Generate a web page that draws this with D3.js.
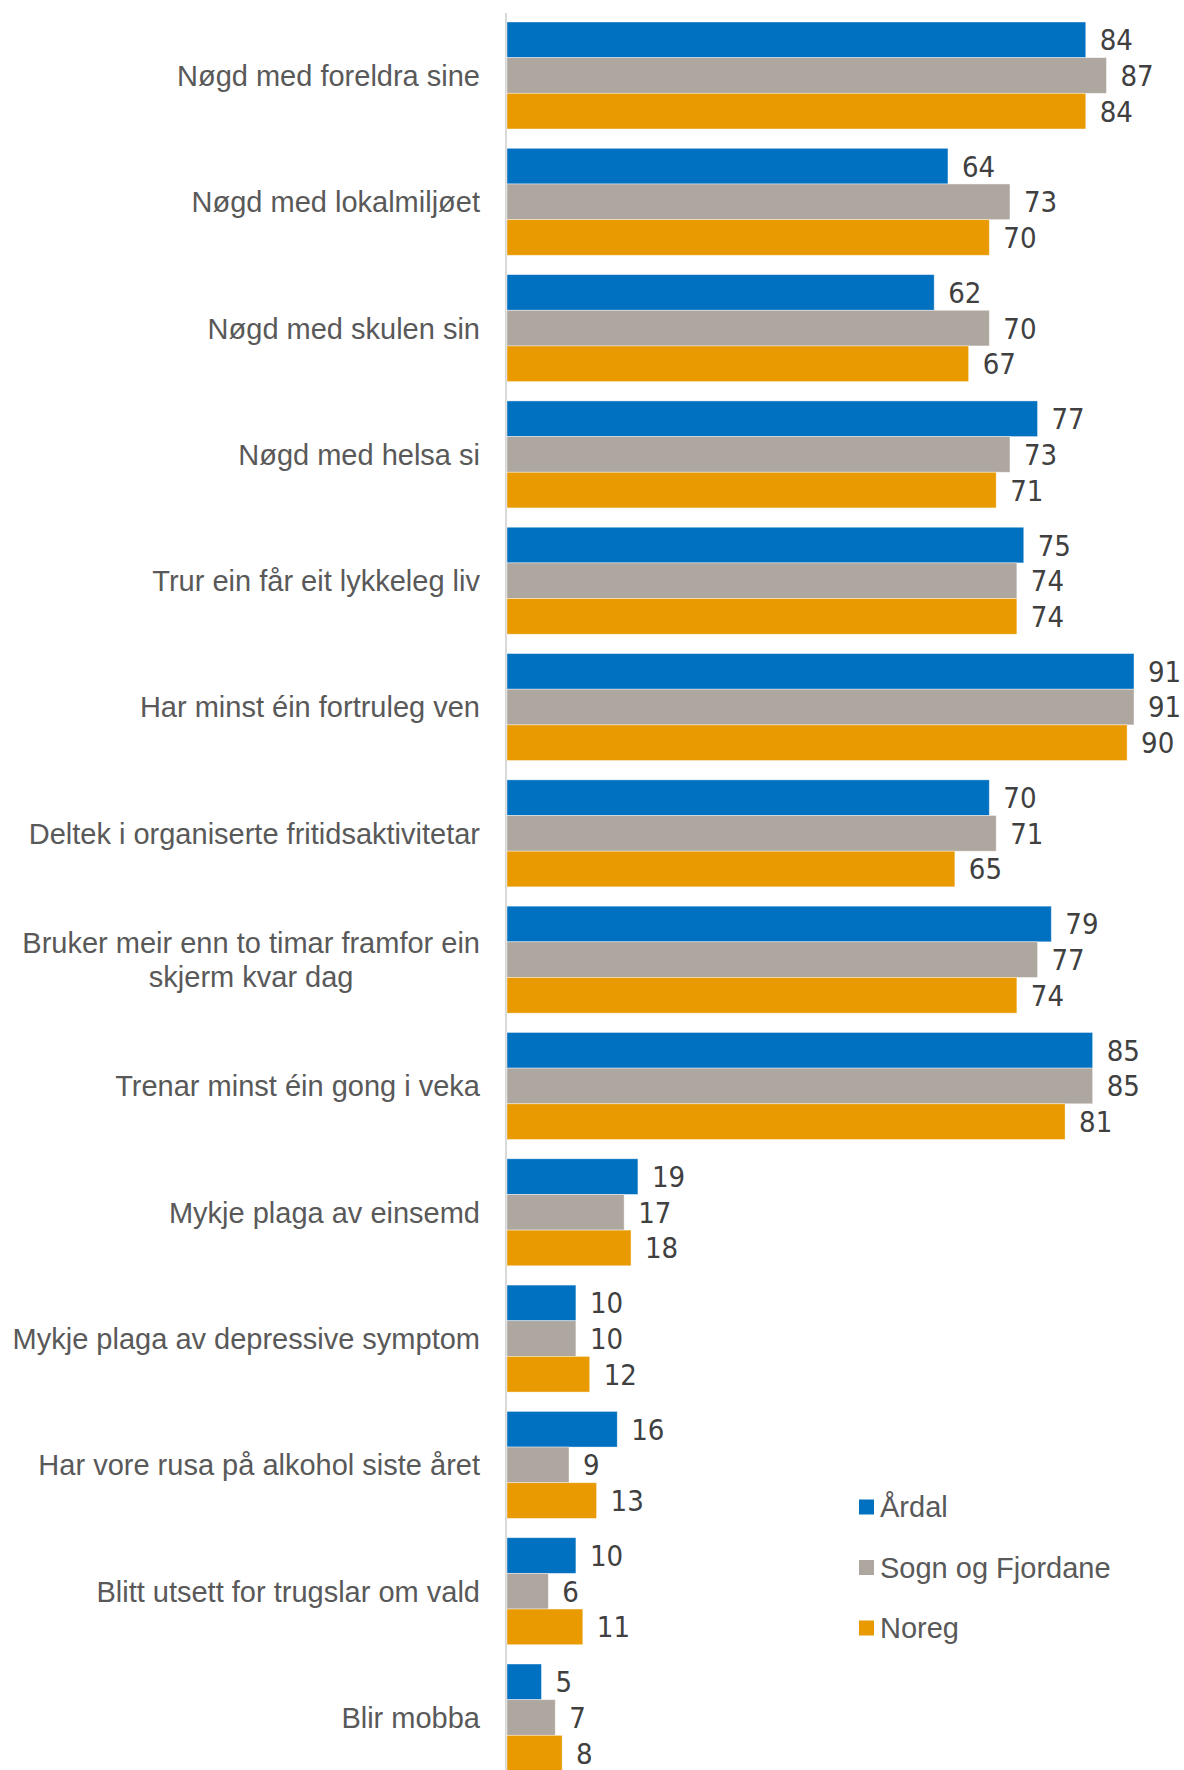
<!DOCTYPE html>
<html>
<head>
<meta charset="utf-8">
<script src="https://cdn.jsdelivr.net/npm/d3@7"></script>
<style>
  body { margin: 0; background: #fff; }
  svg { display: block; }
</style>
</head>
<body>
<svg id="mainSvg" width="1184" height="1770"></svg>
<script>
const categories = [
    "Nøgd med foreldra sine",
    "Nøgd med lokalmiljøet",
    "Nøgd med skulen sin",
    "Nøgd med helsa si",
    "Trur ein får eit lykkeleg liv",
    "Har minst éin fortruleg ven",
    "Deltek i organiserte fritidsaktivitetar",
    "Bruker meir enn to timar framfor ein|skjerm kvar dag",
    "Trenar minst éin gong i veka",
    "Mykje plaga av einsemd",
    "Mykje plaga av depressive symptom",
    "Har vore rusa på alkohol siste året",
    "Blitt utsett for trugslar om vald",
    "Blir mobba"
];
const seriesNames = ["Årdal", "Sogn og Fjordane", "Noreg"];
const ardal = [84, 64, 62, 77, 75, 91, 70, 79, 85, 19, 10, 16, 10, 5];
const sognFjordane = [87, 73, 70, 73, 74, 91, 71, 77, 85, 17, 10, 9, 6, 7];
const noreg = [84, 70, 67, 71, 74, 90, 65, 74, 81, 18, 12, 13, 11, 8];
const seriesColors = ["#0070C0", "#AEA79F", "#E89A00"];

let svg = d3.select('#mainSvg');
let width = +svg.attr('width'), height = +svg.attr('height');

const labelFont = "'Liberation Sans', Arial, sans-serif";
const valueFont = "'Liberation Sans Narrow', 'Arial Narrow', 'DejaVu Sans Condensed', sans-serif";

// rader: ein per kategori, tre verdiar kvar
const rows = categories.map((c, i) => ({
    cat: c,
    values: [ardal[i], sognFjordane[i], noreg[i]]
}));

const x = d3.scaleLinear().domain([0, 100]).range([507, 1196]);
const y = d3.scaleBand().domain(categories).range([22, 1771]).paddingInner(0.153).paddingOuter(0);
const ySub = d3.scaleBand().domain(d3.range(3)).range([0, y.bandwidth()]);

// aksen
svg.append("line")
    .attr("x1", 506).attr("x2", 506)
    .attr("y1", 13).attr("y2", height)
    .attr("stroke", "#D9D9D9")
    .attr("stroke-width", 2);

const groups = svg.selectAll("g.grp").data(rows).join("g")
    .attr("class", "grp")
    .attr("transform", d => `translate(0,${y(d.cat)})`);

groups.selectAll("rect").data(d => d.values).join("rect")
    .attr("x", x(0))
    .attr("y", (v, j) => ySub(j))
    .attr("width", v => x(v) - x(0))
    .attr("height", ySub.bandwidth())
    .attr("fill", (v, j) => seriesColors[j])
    .attr("stroke", "#ffffff")
    .attr("stroke-opacity", 0.5)
    .attr("stroke-width", 0.8);

groups.selectAll("text.val").data(d => d.values).join("text")
    .attr("class", "val")
    .attr("x", v => x(v) + 14)
    .attr("y", (v, j) => ySub(j) + ySub.bandwidth() / 2)
    .attr("dy", "0.36em")
    .attr("font-family", valueFont)
    .attr("font-size", 29)
    .attr("fill", "#404040")
    .text(v => v);

// kategorietikettar, ev. over to linjer (då sentrert)
groups.each(function (d) {
    const lines = d.cat.split("|");
    const lh = 34;
    const t = d3.select(this).append("text")
        .attr("class", "cat")
        .attr("font-family", labelFont)
        .attr("font-size", 29)
        .attr("fill", "#595959");
    const spans = lines.map((ln, k) => t.append("tspan")
        .attr("y", y.bandwidth() / 2 + (k - (lines.length - 1) / 2) * lh)
        .attr("dy", "0.36em")
        .text(ln));
    if (lines.length === 1) {
        t.attr("text-anchor", "end");
        spans[0].attr("x", 480);
    } else {
        const maxW = d3.max(spans, s => s.node().getComputedTextLength());
        t.attr("text-anchor", "middle");
        spans.forEach(s => s.attr("x", 480 - maxW / 2));
    }
});

// forklaring
const legend = svg.append("g").attr("transform", "translate(859,1507)");
const li = legend.selectAll("g").data(seriesNames).join("g")
    .attr("transform", (d, i) => `translate(0,${i * 60.5})`);
li.append("rect")
    .attr("x", 0).attr("y", -7.5)
    .attr("width", 15).attr("height", 15)
    .attr("fill", (d, i) => seriesColors[i]);
li.append("text")
    .attr("x", 21)
    .attr("dy", "0.36em")
    .attr("font-family", labelFont)
    .attr("font-size", 29)
    .attr("fill", "#595959")
    .text(d => d);
</script>
</body>
</html>
